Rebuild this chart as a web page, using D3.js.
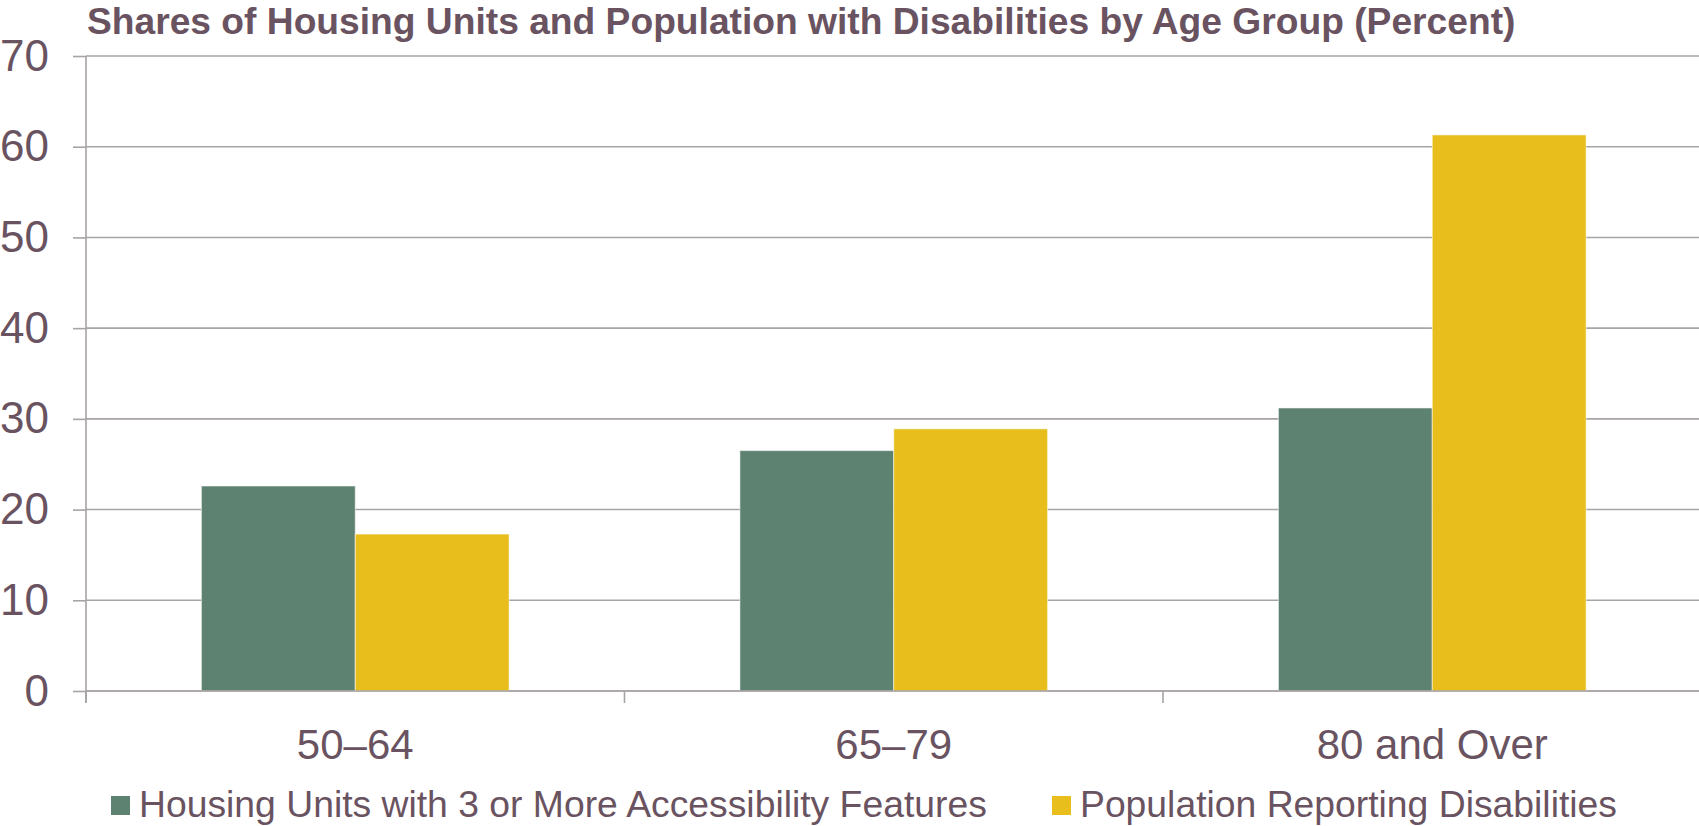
<!DOCTYPE html>
<html>
<head>
<meta charset="utf-8">
<script src="https://cdn.jsdelivr.net/npm/d3@7/dist/d3.min.js"></script>
<style>
  html, body { margin: 0; padding: 0; background: #ffffff; }
  svg { display: block; font-family: "Liberation Sans", Arial, sans-serif; }
</style>
</head>
<body>
<svg id="chart" width="1699" height="826"></svg>
<script>
// Shares of housing units and population with disabilities, by age group (percent)
const categories = ["50–64", "65–79", "80 and Over"];
const seriesNames = [
  "Housing Units with 3 or More Accessibility Features",
  "Population Reporting Disabilities"
];
const housingUnits = [22.6, 26.5, 31.2];
const populationDisabilities = [17.3, 28.9, 61.3];
const yTicks = [0, 10, 20, 30, 40, 50, 60, 70];
const titleText = "Shares of Housing Units and Population with Disabilities by Age Group (Percent)";

const seriesValues = [housingUnits, populationDisabilities];
const seriesColors = ["#5e8271", "#e7be1b"];
const textColor = "#6a5361";
const lineColor = "#a8a3a5";

const svg = d3.select("#chart");
const plotLeft = 86, plotTop = 56, plotBottom = 691;
const step = 538.5;

const x0 = d3.scaleBand()
  .domain(categories)
  .range([plotLeft, plotLeft + step * categories.length])
  .paddingInner(0.4286)
  .paddingOuter(0.2143);

const x1 = d3.scaleBand()
  .domain(seriesNames)
  .range([0, x0.bandwidth()])
  .padding(0);

const y = d3.scaleLinear().domain([0, 70]).range([plotBottom, plotTop]);

// horizontal gridlines
svg.append("g")
  .selectAll("line")
  .data(yTicks)
  .join("line")
  .attr("x1", plotLeft)
  .attr("x2", 1699)
  .attr("y1", d => y(d))
  .attr("y2", d => y(d))
  .attr("stroke", lineColor)
  .attr("stroke-width", 1.6);

// bars
const rows = categories.map((c, i) => ({
  category: c,
  values: seriesNames.map((s, j) => ({ series: s, value: seriesValues[j][i], color: seriesColors[j] }))
}));

svg.append("g")
  .selectAll("g")
  .data(rows)
  .join("g")
  .attr("transform", d => `translate(${x0(d.category)},0)`)
  .selectAll("rect")
  .data(d => d.values)
  .join("rect")
  .attr("x", d => x1(d.series))
  .attr("y", d => y(d.value))
  .attr("width", x1.bandwidth())
  .attr("height", d => y(0) - y(d.value))
  .attr("fill", d => d.color)
  .attr("stroke", "rgba(255,255,255,0.55)")
  .attr("stroke-width", 1);

// y axis
const yAxis = svg.append("g")
  .attr("transform", `translate(${plotLeft},0)`)
  .call(d3.axisLeft(y).tickValues(yTicks).tickSize(13).tickPadding(24).tickFormat(d3.format("d")));
yAxis.select(".domain").attr("stroke", lineColor).attr("stroke-width", 1.6)
  .attr("d", `M0,${plotTop}V${plotBottom + 12}`);
yAxis.selectAll(".tick line").attr("stroke", lineColor).attr("stroke-width", 1.6);
yAxis.selectAll(".tick text")
  .attr("fill", textColor)
  .style("font-size", "44px");

// x axis baseline and category boundary ticks
const boundaries = categories.map(c => x0(c) - (x0.step() - x0.bandwidth()) / 2)
  .concat([x0.range()[1]]);
svg.append("line")
  .attr("x1", plotLeft).attr("x2", 1699)
  .attr("y1", y(0)).attr("y2", y(0))
  .attr("stroke", lineColor).attr("stroke-width", 1.6);
svg.append("g")
  .selectAll("line")
  .data(boundaries)
  .join("line")
  .attr("x1", d => d).attr("x2", d => d)
  .attr("y1", y(0)).attr("y2", y(0) + 12)
  .attr("stroke", lineColor).attr("stroke-width", 1.6);

// category labels
const xAxis = svg.append("g")
  .attr("transform", `translate(0,${plotBottom})`)
  .call(d3.axisBottom(x0).tickSize(0));
xAxis.select(".domain").remove();
xAxis.selectAll(".tick text")
  .attr("y", 68)
  .attr("dy", 0)
  .attr("fill", textColor)
  .style("font-size", "42px");

// title
svg.append("text")
  .attr("x", 87)
  .attr("y", 34)
  .attr("text-anchor", "start")
  .attr("fill", textColor)
  .style("font-size", "37.2px")
  .style("font-weight", "bold")
  .text(titleText);

// legend
const legendItems = [
  { name: seriesNames[0], color: seriesColors[0], x: 111 },
  { name: seriesNames[1], color: seriesColors[1], x: 1052 }
];
const legend = svg.append("g")
  .selectAll("g")
  .data(legendItems)
  .join("g")
  .attr("transform", d => `translate(${d.x},0)`);
legend.append("rect")
  .attr("x", 0).attr("y", 796)
  .attr("width", 19).attr("height", 19)
  .attr("fill", d => d.color);
legend.append("text")
  .attr("x", 28).attr("y", 817)
  .attr("text-anchor", "start")
  .attr("fill", textColor)
  .style("font-size", "37.3px")
  .text(d => d.name);
</script>
</body>
</html>
